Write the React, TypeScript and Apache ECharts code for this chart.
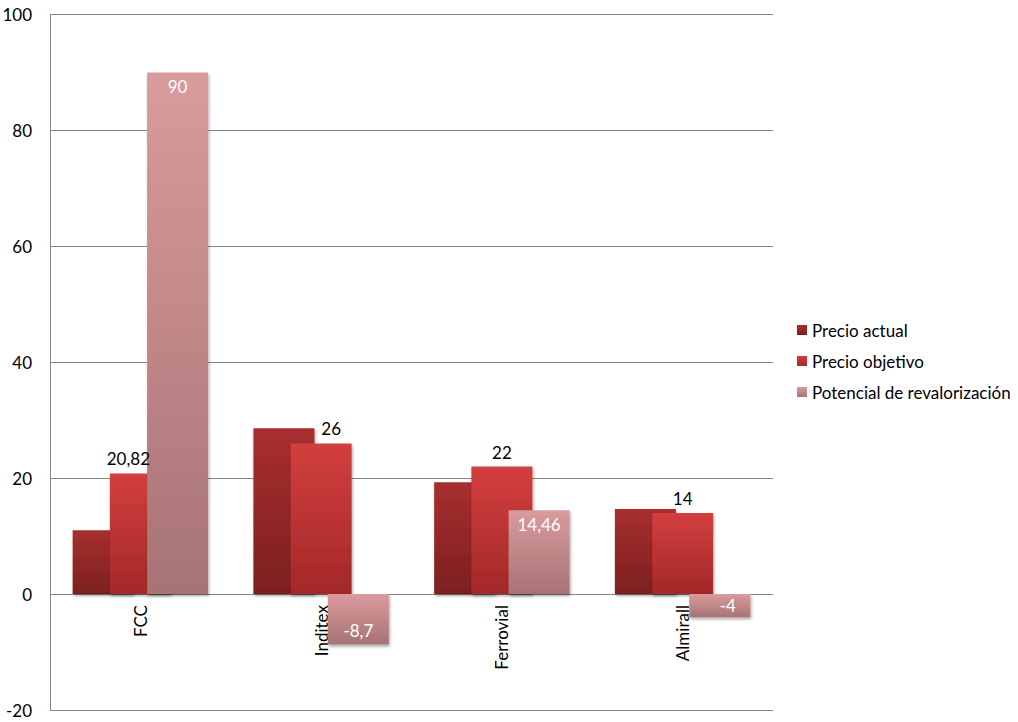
import React, { useEffect, useRef } from "react";
import * as echarts from "echarts";

const categories = ["FCC", "Inditex", "Ferrovial", "Almirall"];
const seriesNames = ["Precio actual", "Precio objetivo", "Potencial de revalorización"];
const precioActual = [11, 28.6, 19.3, 14.7];
const precioObjetivo = [20.82, 26, 22, 14];
const potencial = [90, -8.7, 14.46, -4];
const yTicks = { min: -20, max: 100, interval: 20 };

const FONT = "Lato, 'Open Sans', sans-serif";
const fmt = (v: number) => String(v).replace(".", ",");

const grad = (top: string, bottom: string) =>
  new echarts.graphic.LinearGradient(0, 0, 0, 1, [
    { offset: 0, color: top },
    { offset: 1, color: bottom },
  ]);

export default function App() {
  const ref = useRef<HTMLDivElement>(null);
  useEffect(() => {
    if (!ref.current) return;
    const chart = echarts.init(ref.current, undefined, { renderer: "svg" });
    const shadow = {
      shadowBlur: 3,
      shadowOffsetX: 1,
      shadowOffsetY: 2,
      shadowColor: "rgba(0,0,0,0.35)",
    };
    // manual label nudges, as in the original chart
    const objetivoLabelOffsets = [[-12, 0], [10, 0], [0, 0], [0, 0]];
    const potencialLabelOffsets = [[0, 0], [0, 0], [0, 0], [8, 3]];
    const gridTop = 14.5;
    const gridBottom = 12;
    const plotH = 722 - gridTop - gridBottom;
    const zeroOffset = (plotH * (0 - yTicks.min)) / (yTicks.max - yTicks.min);
    chart.setOption({
      animation: false,
      textStyle: { fontFamily: FONT },
      grid: {
        left: 50,
        right: 245,
        top: gridTop,
        bottom: gridBottom,
        containLabel: false,
        outerBoundsMode: "none",
      },
      legend: {
        orient: "vertical",
        left: 797,
        top: 320,
        padding: 0,
        itemWidth: 10,
        itemHeight: 10,
        itemGap: 11,
        icon: "rect",
        data: seriesNames,
        textStyle: { fontSize: 17, color: "#000", fontFamily: FONT, lineHeight: 20 },
      },
      xAxis: {
        type: "category",
        data: categories,
        offset: -zeroOffset,
        axisLine: { show: false, onZero: false },
        axisTick: { show: false },
        axisLabel: {
          rotate: 90,
          margin: 11,
          fontSize: 17,
          color: "#000",
          fontFamily: FONT,
        },
      },
      yAxis: {
        type: "value",
        min: yTicks.min,
        max: yTicks.max,
        interval: yTicks.interval,
        axisLine: { show: true, lineStyle: { color: "#868686", width: 1 } },
        axisTick: { show: false },
        splitLine: { lineStyle: { color: "#868686", width: 1 } },
        axisLabel: { fontSize: 17, color: "#000", margin: 18, fontFamily: FONT },
      },
      series: [
        {
          name: seriesNames[0],
          type: "bar",
          barWidth: 61,
          barGap: "-39%",
          data: precioActual,
          itemStyle: { color: grad("#A82F2F", "#7C1F1F"), ...shadow },
        },
        {
          name: seriesNames[1],
          type: "bar",
          barWidth: 61,
          barGap: "-39%",
          data: precioObjetivo.map((v, i) => ({
            value: v,
            label: { offset: objetivoLabelOffsets[i] },
          })),
          itemStyle: { color: grad("#D33F3F", "#A32828"), ...shadow },
          label: {
            show: true,
            position: "top",
            distance: 6,
            fontSize: 17,
            color: "#000",
            fontFamily: FONT,
            formatter: (p: any) => fmt(p.value),
          },
        },
        {
          name: seriesNames[2],
          type: "bar",
          barWidth: 61,
          barGap: "-39%",
          data: potencial.map((v, i) => ({
            value: v,
            label: {
              position: v < 0 ? "insideBottom" : "insideTop",
              offset: potencialLabelOffsets[i],
            },
          })),
          itemStyle: { color: grad("#DA9B9D", "#A77375"), ...shadow },
          label: {
            show: true,
            distance: 6,
            fontSize: 17,
            color: "#fff",
            fontFamily: FONT,
            formatter: (p: any) => fmt(p.value),
          },
        },
      ],
    });
    return () => chart.dispose();
  }, []);
  return (
    <div
      ref={ref}
      style={{ position: "fixed", left: 0, top: 0, width: 1018, height: 722, background: "#fff" }}
    />
  );
}
